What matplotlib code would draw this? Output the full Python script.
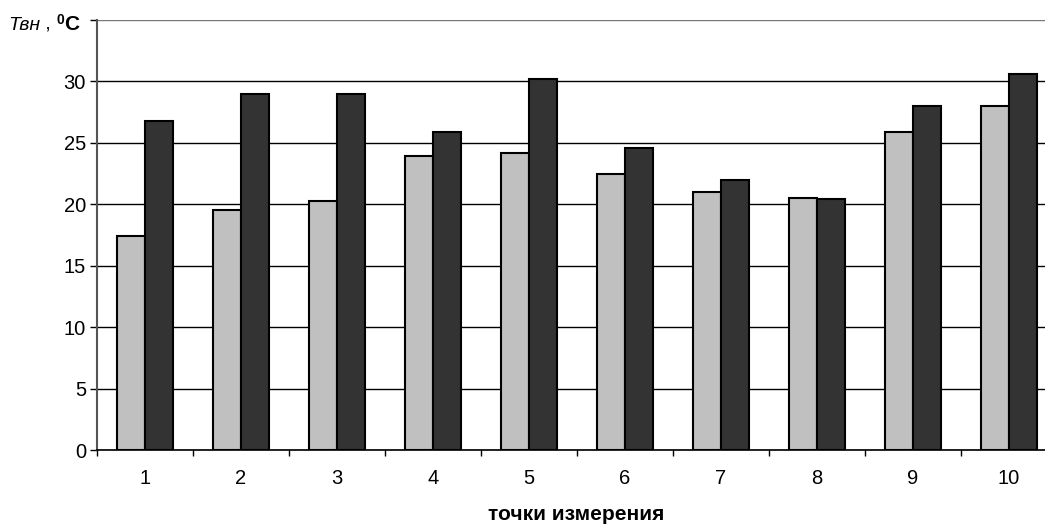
import numpy as np
import matplotlib
matplotlib.use("Agg")
import matplotlib.pyplot as plt

plt.rcParams["font.family"] = ["Liberation Sans", "DejaVu Sans"]

points = ["1", "2", "3", "4", "5", "6", "7", "8", "9", "10"]
t_light = [17.4, 19.5, 20.3, 23.9, 24.2, 22.5, 21.0, 20.5, 25.9, 28.0]
t_dark = [26.8, 29.0, 29.0, 25.9, 30.2, 24.6, 22.0, 20.4, 28.0, 30.6]
y_ticks = [0, 5, 10, 15, 20, 25, 30, 35]

W, H = 1045, 524
fig = plt.figure(figsize=(W / 100, H / 100), dpi=100)
ax = fig.add_axes([97 / W, 1 - 450 / H, 960 / W, 430 / H])

x = np.arange(1, len(points) + 1)
bw = 0.29
ax.bar(x - bw / 2, t_light, bw, color="#c0c0c0", edgecolor="black", linewidth=1.5, zorder=3)
ax.bar(x + bw / 2, t_dark, bw, color="#333333", edgecolor="black", linewidth=1.5, zorder=3)

ax.set_xlim(0.5, len(points) + 0.5)
ax.set_ylim(0, 35)
ax.set_yticks(y_ticks)
ax.set_yticklabels([str(v) if v < 35 else "" for v in y_ticks])
ax.set_xticks(x)
ax.set_xticklabels(points)
ax.set_xticks(np.arange(0.5, len(points) + 1), minor=True)
ax.tick_params(axis="x", which="major", length=0, pad=14, labelsize=14.5)
ax.tick_params(axis="x", which="minor", length=4, direction="out", width=1)
ax.tick_params(axis="y", length=5, direction="out", width=1, labelsize=14.5, pad=3)

ax.yaxis.grid(True, color="black", linewidth=1)
ax.get_ygridlines()[-1].set_color("#777777")
ax.set_axisbelow(True)
ax.spines["top"].set_visible(False)
ax.spines["right"].set_visible(False)
ax.spines["left"].set_color("#555555")
ax.spines["left"].set_linewidth(1.5)
ax.spines["bottom"].set_linewidth(1.2)

# y axis title: italic "Твн", normal comma, bold superscript 0 and C
t1 = fig.text(8 / W, 1 - 30 / H, "Твн", fontsize=14, style="italic", va="baseline")
t2 = ax.annotate(" , ", xy=(1, 0), xycoords=t1, fontsize=14, va="bottom")
t3 = ax.annotate("0", xy=(1, 0.4), xycoords=t2, fontsize=10, fontweight="bold", va="bottom")
ax.annotate("С", xy=(1, 0), xycoords=t2, xytext=(5.5, 0), textcoords="offset points",
            fontsize=15, fontweight="bold", va="bottom")

fig.text(576 / W, 1 - 520 / H, "точки измерения", fontsize=15, fontweight="bold",
         ha="center", va="baseline")

fig.savefig("out.png", dpi=100)
